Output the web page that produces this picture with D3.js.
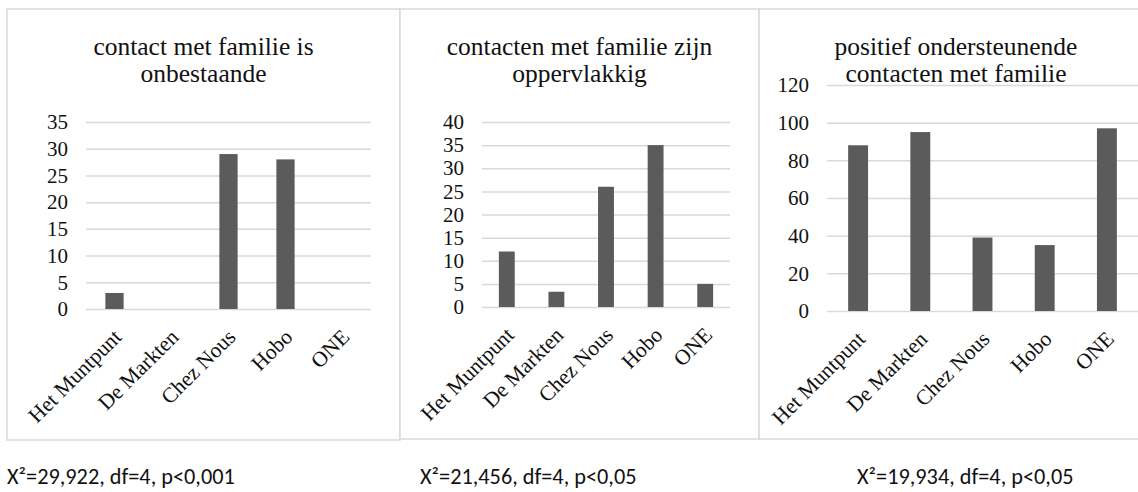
<!DOCTYPE html>
<html>
<head>
<meta charset="utf-8">
<script src="https://cdn.jsdelivr.net/npm/d3@7"></script>
<style>
  body { margin: 0; background: #fff; }
  svg { display: block; }
</style>
</head>
<body>
<div id="chart"></div>
<script>
// categories shared by the three panels
const categories = ["Het Muntpunt", "De Markten", "Chez Nous", "Hobo", "ONE"];

// values
const onbestaande = [3, 0, 29, 28, 0];
const oppervlakkig = [12, 3.3, 26, 35, 5];
const ondersteunend = [88, 95, 39, 35, 97];

const titles = [
  ["contact met familie is", "onbestaande"],
  ["contacten met familie zijn", "oppervlakkig"],
  ["positief ondersteunende", "contacten met familie"]
];
const stats = [
  "X\u00b2=29,922, df=4, p<0,001",
  "X\u00b2=21,456, df=4, p<0,05",
  "X\u00b2=19,934, df=4, p<0,05"
];
const yMaxes = [35, 40, 120];
const ySteps = [5, 5, 20];

const width = 1138, height = 492;
const serif = "'Liberation Serif', 'Times New Roman', serif";

const svg = d3.select("#chart")
  .append("svg")
    .attr("width", width)
    .attr("height", height);

// panel frames and plot areas (pixels)
const panels = [
  { box: [7, 9, 400, 440], x: [86, 371], y: [309, 122], statX: 7 },
  { box: [400, 9, 759, 439], x: [482, 730], y: [307, 122], statX: 420 },
  { box: [759, 9, 1153, 439], x: [827, 1138], y: [311, 85], statX: 857 }
];
const seriesList = [onbestaande, oppervlakkig, ondersteunend];

panels.forEach((p, i) => drawPanel(p, seriesList[i], titles[i], yMaxes[i], ySteps[i]));

// chi-square notes below the frames
const notes = svg.selectAll("text.note")
  .data(stats)
  .join("text")
    .attr("class", "note")
    .attr("x", (d, i) => panels[i].statX)
    .attr("y", 484)
    .attr("font-family", "Carlito, Calibri, Lato, sans-serif")
    .attr("font-size", 20)
    .attr("fill", "#111")
    .text(d => d);

// the first note is about 228px wide in the picture; size the font to match
const w0 = notes.node().getComputedTextLength();
notes.attr("font-size", 20 * 228 / w0);

function drawPanel(p, values, title, yMax, step) {
  const g = svg.append("g");

  // frame
  g.append("rect")
    .attr("x", p.box[0])
    .attr("y", p.box[1])
    .attr("width", p.box[2] - p.box[0])
    .attr("height", p.box[3] - p.box[1])
    .attr("fill", "#fff")
    .attr("stroke", "#d9d9d9")
    .attr("stroke-width", 1.5);

  const x = d3.scaleBand()
    .domain(categories)
    .range(p.x)
    .paddingInner(0.68)
    .paddingOuter(0.34);

  const y = d3.scaleLinear()
    .domain([0, yMax])
    .range(p.y);

  // gridlines + tick labels
  const yAxis = g.append("g")
    .attr("transform", `translate(${p.x[0]},0)`)
    .call(d3.axisLeft(y)
      .tickValues(d3.range(0, yMax + step, step))
      .tickSize(-(p.x[1] - p.x[0]))
      .tickPadding(18));
  yAxis.select(".domain").remove();
  yAxis.selectAll("line")
    .attr("stroke", "#d9d9d9")
    .attr("stroke-width", 1.5);
  yAxis.selectAll("text")
    .attr("font-family", serif)
    .attr("font-size", 21)
    .attr("fill", "#111");

  // bars
  g.selectAll("rect.bar")
    .data(values)
    .join("rect")
      .attr("class", "bar")
      .attr("x", (d, j) => x(categories[j]))
      .attr("width", x.bandwidth())
      .attr("y", d => y(d))
      .attr("height", d => y(0) - y(d))
      .attr("fill", "#5b5b5b");

  // rotated category labels
  g.selectAll("text.cat")
    .data(categories)
    .join("text")
      .attr("class", "cat")
      .attr("transform", d => `translate(${x(d) + x.bandwidth() / 2 + 3},${y(0) + 24}) rotate(-45)`)
      .attr("dy", "0.35em")
      .attr("text-anchor", "end")
      .attr("font-family", serif)
      .attr("font-size", 21.5)
      .attr("fill", "#111")
      .text(d => d);

  // title, two lines
  const cx = (p.box[0] + p.box[2]) / 2;
  g.append("text")
    .attr("text-anchor", "middle")
    .attr("font-family", serif)
    .attr("font-size", 25.5)
    .attr("fill", "#111")
    .selectAll("tspan")
    .data(title)
    .join("tspan")
      .attr("x", cx)
      .attr("y", (d, j) => 55 + j * 27)
      .text(d => d);
}
</script>
</body>
</html>
